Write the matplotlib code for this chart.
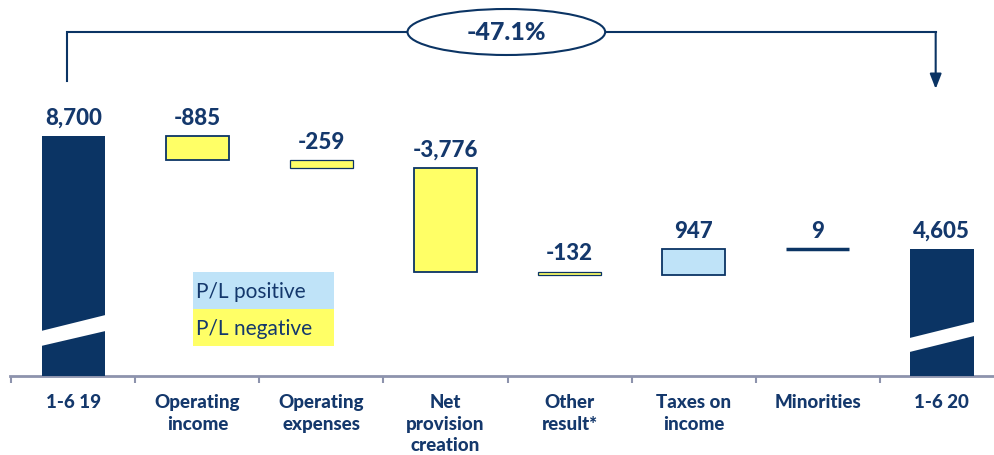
import matplotlib
matplotlib.use("Agg")
import matplotlib.pyplot as plt
from matplotlib.patches import Ellipse, Rectangle, Polygon

categories = ["1-6 19", "Operating\nincome", "Operating\nexpenses", "Net\nprovision\ncreation",
              "Other\nresult*", "Taxes on\nincome", "Minorities", "1-6 20"]
start_value = 8700
deltas = [-885, -259, -3776, -132, 947, 9]
end_value = 4605
change_label = "-47.1%"
legend_labels = ["P/L positive", "P/L negative"]

NAVY = "#0b3464"
TEXT = "#14386c"
YELLOW = "#ffff66"
LBLUE = "#bfe3f8"
AXIS = "#8d93ad"
FONT = "Lato"
BOLD = "black"

fig = plt.figure(figsize=(9.94, 4.56), dpi=100)
ax = fig.add_axes([10/994, 79/456, 984/994, 377/456])
ax.set_xlim(-0.51, 7.42)
ax.set_ylim(0, 13664)

# waterfall
x = list(range(len(categories)))
bottoms, heights, colors, edges, lws = [], [], [], [], []
bottoms.append(0); heights.append(start_value); colors.append(NAVY); edges.append(NAVY); lws.append(0)
level = start_value
for d in deltas:
    bottoms.append(level); heights.append(d)
    if abs(d) < 50:
        colors.append(NAVY); edges.append(NAVY); lws.append(2.5)
    elif abs(d) < 300:
        colors.append(YELLOW if d < 0 else LBLUE); edges.append(NAVY); lws.append(0.9)
    else:
        colors.append(YELLOW if d < 0 else LBLUE); edges.append(NAVY); lws.append(1.3)
    level += d
bottoms.append(0); heights.append(end_value); colors.append(NAVY); edges.append(NAVY); lws.append(0)

W = 0.51
ax.bar(x, heights, bottom=bottoms, width=W, color=colors, edgecolor=edges, linewidth=lws, zorder=3)

# value labels
vals = [start_value] + deltas + [end_value]
for xi, b, h, v in zip(x, bottoms, heights, vals):
    top = max(b, b + h)
    ax.annotate(f"{v:,}", (xi, top), xytext=(0, 6), textcoords="offset points",
                ha="center", va="bottom", fontsize=16, fontweight=BOLD,
                color=TEXT, family=FONT)

# axis break slashes on total bars
def slash(xc, yl_lo, yl_hi, yr_lo, yr_hi):
    pts = [(xc - W/2 - 0.005, yl_lo), (xc + W/2 + 0.005, yr_lo),
           (xc + W/2 + 0.005, yr_hi), (xc - W/2 - 0.005, yl_hi)]
    ax.add_patch(Polygon(pts, closed=True, facecolor="white", edgecolor="none", zorder=4))
slash(0, 1087, 1631, 1631, 2211)
slash(len(categories) - 1, 870, 1377, 1450, 1957)

# axis styling
for s in ["top", "left", "right"]:
    ax.spines[s].set_visible(False)
ax.spines["bottom"].set_color(AXIS)
ax.spines["bottom"].set_linewidth(2)
ax.set_yticks([])
ax.set_xticks(x)
ax.set_xticklabels(categories, fontsize=13.5, fontweight=BOLD, color=TEXT,
                   family=FONT, linespacing=1.35, va="top")
ax.tick_params(axis="x", which="major", length=0, pad=12)
ax.set_xticks([i - 0.5 for i in range(len(categories))], minor=True)
ax.tick_params(axis="x", which="minor", length=5, width=1.5, color=AXIS, direction="out")

# bracket with change
y_top = 12468
x0 = 0 - 0.05
x1 = len(categories) - 1 - 0.05
ax.plot([x0, x0, x1], [start_value + 2000, y_top, y_top], color=NAVY, lw=1.5,
        zorder=5, clip_on=False, solid_joinstyle="miter")
ax.annotate("", xy=(x1, end_value + 5800), xytext=(x1, y_top),
            arrowprops=dict(arrowstyle="-|>,head_length=0.9,head_width=0.35",
                            color=NAVY, lw=1.5, shrinkA=0, shrinkB=0), zorder=5)
xm = 3.49
ax.add_patch(Ellipse((xm, y_top), 1.593, 1667, facecolor="white", edgecolor=NAVY,
                     lw=1.5, zorder=6, clip_on=False))
ax.text(xm, y_top, change_label, ha="center", va="center", fontsize=18,
        fontweight=BOLD, color=TEXT, family=FONT, zorder=7)

# legend boxes
lx0, lx1 = 0.965, 2.10
ax.add_patch(Rectangle((lx0, 2428), lx1 - lx0, 3769 - 2428, facecolor=LBLUE,
                       edgecolor="none", zorder=2))
ax.add_patch(Rectangle((lx0, 1087), lx1 - lx0, 2428 - 1087, facecolor=YELLOW,
                       edgecolor="none", zorder=2))
ax.text(lx0 + 0.02, (2428 + 3769) / 2, legend_labels[0], ha="left", va="center",
        fontsize=15, color=TEXT, family=FONT, zorder=3)
ax.text(lx0 + 0.02, (1087 + 2428) / 2, legend_labels[1], ha="left", va="center",
        fontsize=15, color=TEXT, family=FONT, zorder=3)

fig.savefig("out.png", dpi=100)
